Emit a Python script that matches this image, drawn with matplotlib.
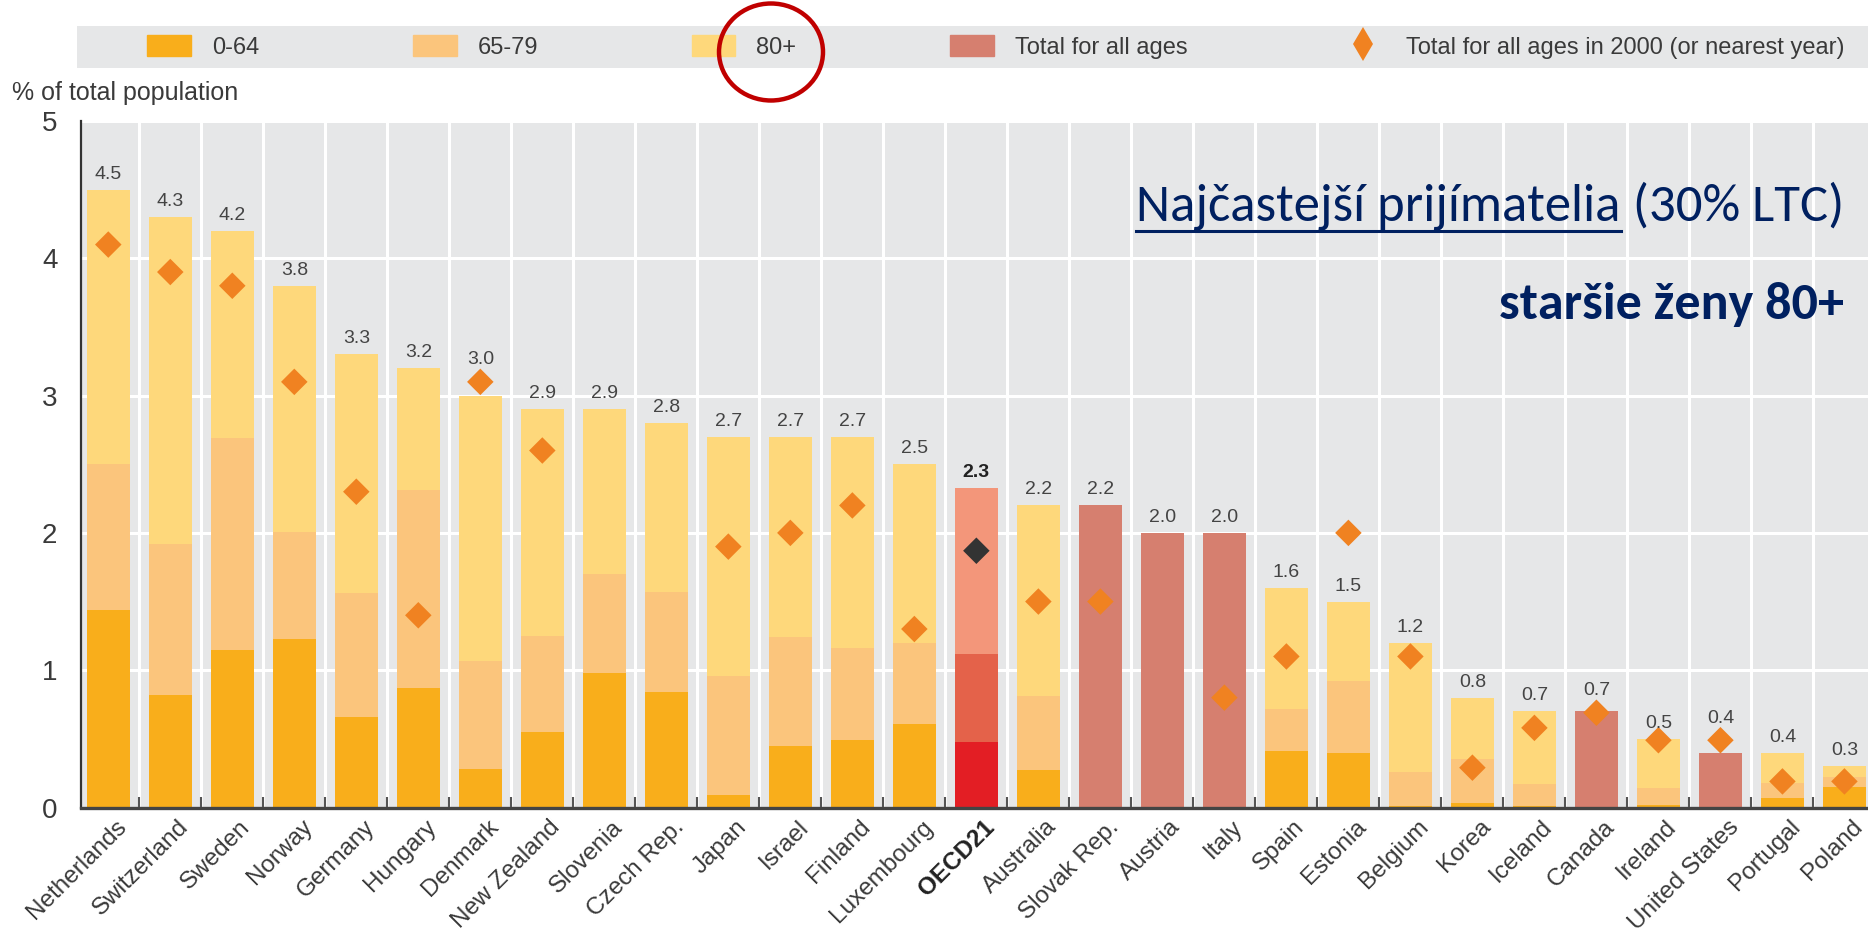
import numpy as np
import matplotlib
matplotlib.use("Agg")
import matplotlib.pyplot as plt
from matplotlib import font_manager as fm
from matplotlib.patches import Rectangle, Ellipse, Patch
from matplotlib.lines import Line2D
import matplotlib.transforms as mtrans

# ---- data ----
countries = ["Netherlands", "Switzerland", "Sweden", "Norway", "Germany", "Hungary",
             "Denmark", "New Zealand", "Slovenia", "Czech Rep.", "Japan", "Israel",
             "Finland", "Luxembourg", "OECD21", "Australia", "Slovak Rep.", "Austria",
             "Italy", "Spain", "Estonia", "Belgium", "Korea", "Iceland", "Canada",
             "Ireland", "United States", "Portugal", "Poland"]
age_0_64 = [1.44, 0.82, 1.15, 1.23, 0.66, 0.87, 0.28, 0.55, 0.98, 0.84, 0.09, 0.45,
            0.49, 0.61, 0.48, 0.27, 0, 0, 0, 0.41, 0.40, 0.01, 0.03, 0.01, 0,
            0.02, 0, 0.07, 0.15]
age_65_79 = [1.06, 1.10, 1.54, 0.78, 0.90, 1.44, 0.79, 0.70, 0.72, 0.73, 0.87, 0.79,
             0.67, 0.59, 0.64, 0.54, 0, 0, 0, 0.31, 0.52, 0.25, 0.32, 0.16, 0,
             0.12, 0, 0.11, 0.07]
age_80 = [2.00, 2.38, 1.51, 1.79, 1.74, 0.89, 1.93, 1.65, 1.20, 1.23, 1.74, 1.46,
          1.54, 1.30, 1.21, 1.39, 0, 0, 0, 0.88, 0.58, 0.94, 0.45, 0.53, 0,
          0.36, 0, 0.22, 0.08]
total_only = [None] * 16 + [2.2, 2.0, 2.0] + [None] * 5 + [0.7, None, 0.4, None, None]
total_labels = ["4.5", "4.3", "4.2", "3.8", "3.3", "3.2", "3.0", "2.9", "2.9", "2.8",
                "2.7", "2.7", "2.7", "2.5", "2.3", "2.2", "2.2", "2.0", "2.0", "1.6",
                "1.5", "1.2", "0.8", "0.7", "0.7", "0.5", "0.4", "0.4", "0.3"]
total_2000 = [4.1, 3.9, 3.8, 3.1, 2.3, 1.4, 3.1, 2.6, None, None, 1.9, 2.0, 2.2, 1.3,
              1.87, 1.5, 1.5, None, 0.8, 1.1, 2.0, 1.1, 0.29, 0.58, 0.69, 0.49, 0.49,
              0.19, 0.19]
oecd_name = "OECD21"
lift_label = ["Denmark", "Canada", "United States"]   # labels pushed above the diamond

# ---- fonts ----
names = {f.name for f in fm.fontManager.ttflist}
narrow = "Liberation Sans Narrow" if "Liberation Sans Narrow" in names else "Liberation Sans"
calib = "Carlito" if "Carlito" in names else "Lato"
plt.rcParams['font.family'] = [narrow, 'DejaVu Sans']

c064 = "#F9AE1B"
c6579 = "#FBC57C"
c80 = "#FED87B"
ctot = "#D67F6F"
cdia = "#F08221"
gray_bg = "#E6E7E8"
txt = "#3A3A3A"
navy = "#002060"

W, H = 1868, 935
fig = plt.figure(figsize=(W / 100, H / 100), dpi=100)
ax = fig.add_axes([81 / W, 1 - 807.5 / H, 1 - 81 / W, 686.5 / H])
ax.set_facecolor(gray_bg)

x = np.arange(len(countries))
bw = 0.69
a = np.array(age_0_64)
b = np.array(age_65_79)
c = np.array(age_80)
is_oecd = np.array([n == oecd_name for n in countries])

cols1 = [("#E31E24" if o else c064) for o in is_oecd]
cols2 = [("#E4624A" if o else c6579) for o in is_oecd]
cols3 = [("#F3967A" if o else c80) for o in is_oecd]
ax.bar(x, a, bw, color=cols1, zorder=3)
ax.bar(x, b, bw, bottom=a, color=cols2, zorder=3)
ax.bar(x, c, bw, bottom=a + b, color=cols3, zorder=3)
tot_x = [i for i, v in enumerate(total_only) if v is not None]
tot_v = [total_only[i] for i in tot_x]
ax.bar(tot_x, tot_v, bw, color=ctot, zorder=3)

tops = []
for i in range(len(countries)):
    tops.append(total_only[i] if total_only[i] is not None else a[i] + b[i] + c[i])
for i, lab in enumerate(total_labels):
    col = "#222222" if is_oecd[i] else "#444444"
    fw = "bold" if is_oecd[i] else "normal"
    if countries[i] in lift_label:
        ax.annotate(lab, (x[i], total_2000[i]), xytext=(0, 16), textcoords="offset points",
                    ha="center", va="center", fontsize=14, color=col, fontweight=fw, zorder=5)
    else:
        ax.annotate(lab, (x[i], tops[i]), xytext=(0, 5), textcoords="offset points",
                    ha="center", va="bottom", fontsize=14, color=col, fontweight=fw, zorder=5)

dx = [i for i, v in enumerate(total_2000) if v is not None]
dv = [total_2000[i] for i in dx]
dcol = ["#333333" if is_oecd[i] else cdia for i in dx]
ax.scatter(dx, dv, marker="D", s=13.5 ** 2, c=dcol, linewidths=0, zorder=4)

ax.set_xlim(-0.44, len(countries) - 1 + 0.38)
ax.set_ylim(0, 5)
ax.set_yticks([0, 1, 2, 3, 4, 5])
ax.set_yticklabels(["0", "1", "2", "3", "4", "5"])
ax.tick_params(axis="y", length=0, pad=17, labelsize=20, labelcolor=txt)
ax.grid(axis="y", color="white", lw=2.2, zorder=1)
ax.set_xticks(x)
ax.set_xticks(x[:-1] + 0.5, minor=True)
ax.grid(axis="x", which="minor", color="white", lw=2.2, zorder=1)
ax.tick_params(axis="x", which="major", length=0, pad=6)
ax.tick_params(axis="x", which="minor", direction="in", length=8, width=1.5, color="#555555")
ax.set_xticklabels(countries, rotation=45, ha="right", va="top", rotation_mode="anchor",
                   fontsize=17.5, color=txt)
off = mtrans.ScaledTranslation(7 / 100, 0, fig.dpi_scale_trans)
for t in ax.get_xticklabels():
    t.set_transform(t.get_transform() + off)
    if t.get_text() == oecd_name:
        t.set_fontweight("bold")
        t.set_color("#222222")
for s in ["top", "right"]:
    ax.spines[s].set_visible(False)
ax.spines["left"].set_color("#333333")
ax.spines["left"].set_linewidth(1.6)
ax.spines["bottom"].set_color("#444444")
ax.spines["bottom"].set_linewidth(2.4)
ax.spines["bottom"].set_zorder(6)

# ---- legend band ----
fig.add_artist(Rectangle((77 / W, 1 - 68 / H), 1 - 77 / W, 42 / H, transform=fig.transFigure,
                         facecolor=gray_bg, edgecolor="none", zorder=0))
handles = [Patch(color=c064), Patch(color=c6579), Patch(color=c80), Patch(color=ctot),
           Line2D([], [], marker="d", color=cdia, ls="none", markersize=17, markeredgewidth=0)]
labels = ["0-64", "65-79", "80+", "Total for all ages", "Total for all ages in 2000 (or nearest year)"]
fs_leg = 17
fig.legend(handles, labels, loc="center left", bbox_to_anchor=(147 / W, 1 - 47 / H), ncol=5,
           frameon=False, fontsize=fs_leg, labelcolor=txt, handlelength=1.86, handleheight=0.95,
           handletextpad=0.89, columnspacing=6.5, borderpad=0, borderaxespad=0)

fig.text(12 / W, 1 - 100 / H, "% of total population", fontsize=18, color=txt, va="baseline")

# red ellipse around 80+
fig.add_artist(Ellipse((771 / W, 1 - 52 / H), 104 / W, 97 / H, transform=fig.transFigure,
                       fill=False, edgecolor="#C00000", lw=3.2, zorder=10))

# ---- annotations ----
fig.canvas.draw()
r = fig.canvas.get_renderer()
y1 = 1 - 221 / H
t2 = fig.text(1844 / W, y1, " (30% LTC)", ha="right", va="baseline", fontsize=38,
              color=navy, family=calib)
bb2 = t2.get_window_extent(r)
t1 = fig.text(bb2.x0 / W, y1, "Najčastejší prijímatelia", ha="right", va="baseline",
              fontsize=38, color=navy, family=calib)
bb1 = t1.get_window_extent(r)
uy = 1 - 231 / H
fig.add_artist(Line2D([bb1.x0 / W, bb1.x1 / W], [uy, uy], transform=fig.transFigure,
                      color=navy, lw=2.2))
fig.text(1844 / W, 1 - 319 / H, "staršie ženy 80+", ha="right", va="baseline", fontsize=37.5,
         fontweight="bold", color=navy, family=calib)

fig.savefig("out.png", dpi=100)
